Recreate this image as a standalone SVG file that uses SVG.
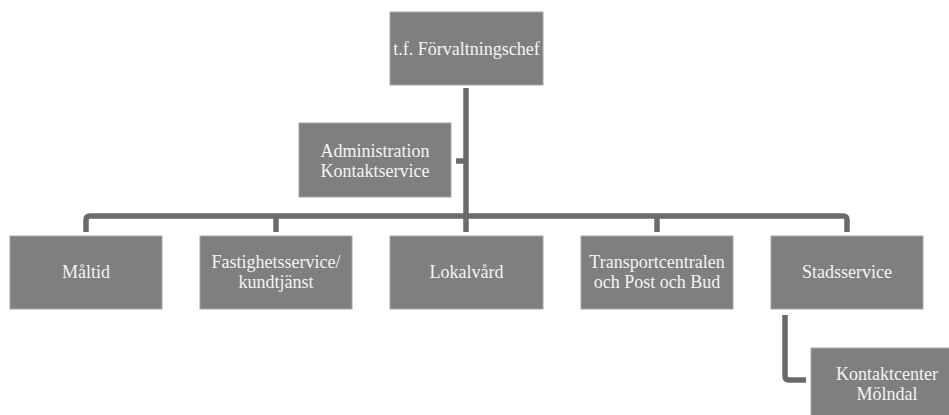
<svg xmlns="http://www.w3.org/2000/svg" width="949" height="415" viewBox="0 0 949 415">
<style>
.box{fill:#7f7f7f;stroke:#a6a6a6;stroke-width:1}
.t{font-family:"Liberation Serif","Times New Roman",serif;font-size:18px;fill:#f4f4f4;text-anchor:middle}
.c{fill:none;stroke:#6a6a6a;stroke-width:5.5;stroke-linejoin:round}
</style>
<rect width="949" height="415" fill="#fff"/>
<g id="connectors">
<path class="c" d="M466,88 V216"/>
<path class="c" d="M456,161 H466"/>
<path class="c" d="M86,232 V220 Q86,216 90,216 H843 Q847,216 847,220 V232"/>
<path class="c" d="M276,216 V232"/>
<path class="c" d="M466,216 V232"/>
<path class="c" d="M657,216 V232"/>
<path class="c" d="M785,315 V376 Q785,380 789,380 H806"/>
</g>
<g id="n-chef"><rect class="box" x="390" y="12" width="153" height="73"/><text class="t" x="466.5" y="55">t.f. Förvaltningschef</text></g>
<g id="n-admin"><rect class="box" x="299" y="123" width="152" height="74"/><text class="t" x="375" y="157">Administration</text><text class="t" x="375" y="177">Kontaktservice</text></g>
<g id="n-maltid"><rect class="box" x="10" y="236" width="152" height="73"/><text class="t" x="86" y="278">Måltid</text></g>
<g id="n-fastighet"><rect class="box" x="200" y="236" width="152" height="73"/><text class="t" x="276" y="268">Fastighetsservice/</text><text class="t" x="276" y="288">kundtjänst</text></g>
<g id="n-lokal"><rect class="box" x="390" y="236" width="153" height="73"/><text class="t" x="466.5" y="278">Lokalvård</text></g>
<g id="n-transport"><rect class="box" x="581" y="236" width="152" height="73"/><text class="t" x="657" y="268">Transportcentralen</text><text class="t" x="657" y="288">och Post och Bud</text></g>
<g id="n-stads"><rect class="box" x="771" y="236" width="152" height="73"/><text class="t" x="847" y="278">Stadsservice</text></g>
<g id="n-kontakt"><rect class="box" x="811" y="348" width="152" height="74"/><text class="t" x="887" y="380">Kontaktcenter</text><text class="t" x="887" y="400">Mölndal</text></g>
</svg>
